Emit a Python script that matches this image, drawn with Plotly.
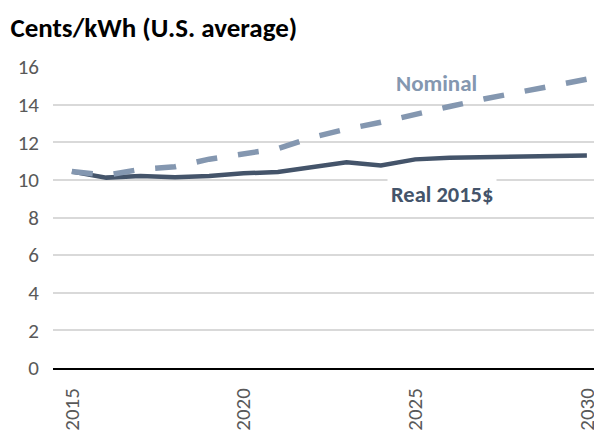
import plotly.graph_objects as go

years = list(range(2015, 2031))
nominal = [10.44, 10.25, 10.56, 10.7, 11.1, 11.41, 11.66, 12.26, 12.7, 13.06, 13.5, 13.9, 14.3, 14.64, 15.03, 15.35]
real = [10.44, 10.12, 10.2, 10.14, 10.2, 10.35, 10.42, 10.7, 10.93, 10.76, 11.09, 11.18, 11.2, 11.25, 11.25, 11.3]
x_ticks = [2015, 2020, 2025, 2030]
y_ticks = [0, 2, 4, 6, 8, 10, 12, 14, 16]

FONT = "Carlito, Lato, 'Open Sans', sans-serif"
C_NOM = "#8497B0"
C_REAL = "#44546A"

fig = go.Figure()
fig.add_trace(go.Scatter(x=years, y=real, mode="lines", name="Real 2015$",
                         line=dict(color=C_REAL, width=4.5)))
fig.add_trace(go.Scatter(x=years, y=nominal, mode="lines", name="Nominal",
                         line=dict(color=C_NOM, width=5.5, dash="21px,21px")))

fig.add_annotation(x=2025.62, y=15.15, text="<b>Nominal</b>", showarrow=False,
                   font=dict(family=FONT, size=23, color=C_NOM))
fig.add_annotation(x=2025.77, y=9.2, text="<b>Real 2015$</b>", showarrow=False,
                   font=dict(family=FONT, size=22.5, color=C_REAL),
                   bgcolor="white", borderpad=3)

fig.update_layout(
    width=594, height=425,
    margin=dict(l=45, r=0, t=59, b=65),
    paper_bgcolor="white", plot_bgcolor="white",
    showlegend=False,
    font=dict(family=FONT, color="#595959"),
    title=dict(text="<b>Cents/kWh (U.S. average)</b>", x=0.004, xanchor="left",
               y=0.953, yanchor="middle",
               font=dict(family=FONT, size=27, color="black")),
)
fig.update_xaxes(range=[2014.45, 2030.44], tickvals=x_ticks, ticktext=[str(v) for v in x_ticks],
                 tickangle=-90, tickfont=dict(size=21, color="#595959"),
                 showgrid=False, zeroline=False, showline=True, linecolor="black", linewidth=1.5,
                 ticks="", ticklabelstandoff=10, automargin=False)
fig.update_yaxes(range=[0, 16], tickvals=y_ticks, tickfont=dict(size=21, color="#595959"),
                 showgrid=True, gridcolor="#D9D9D9", gridwidth=1.5, zeroline=False,
                 ticks="", ticklabelstandoff=13, automargin=False)

fig.write_html("out.html")
